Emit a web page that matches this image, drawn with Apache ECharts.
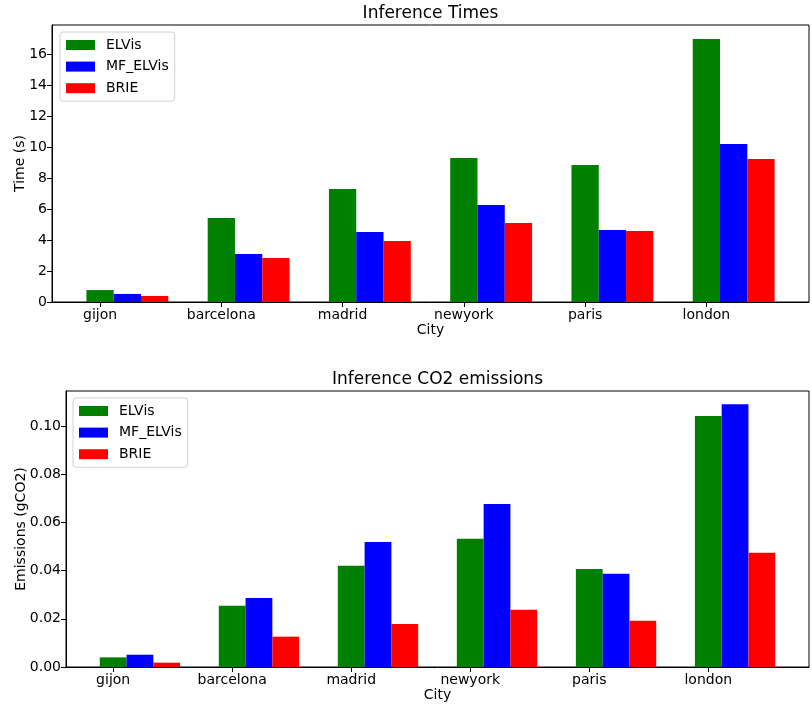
<!DOCTYPE html>
<html>
<head>
    <meta charset="utf-8">
    <title>Inference</title>
    <script src="https://cdn.jsdelivr.net/npm/echarts@6/dist/echarts.min.js"></script>
    <style>
        body { margin: 0; background-color: #ffffff; }
        #chart { width: 812px; height: 704px; }
    </style>
</head>
<body>
    <div id="chart"></div>
    <script>
        // data
        const cities = ['gijon', 'barcelona', 'madrid', 'newyork', 'paris', 'london'];
        const seriesNames = ['ELVis', 'MF_ELVis', 'BRIE'];
        const colors = ['#008000', '#0000ff', '#ff0000'];

        const timeELVis = [0.77, 5.42, 7.29, 9.29, 8.84, 16.97];
        const timeMF = [0.52, 3.10, 4.52, 6.26, 4.65, 10.19];
        const timeBRIE = [0.39, 2.84, 3.94, 5.10, 4.58, 9.23];

        const co2ELVis = [0.0040, 0.0254, 0.0420, 0.0532, 0.0407, 0.1042];
        const co2MF = [0.0051, 0.0287, 0.0519, 0.0677, 0.0387, 0.1091];
        const co2BRIE = [0.0018, 0.0126, 0.0179, 0.0238, 0.0192, 0.0474];

        const timeTicks = [0, 2, 4, 6, 8, 10, 12, 14, 16];
        const co2Ticks = [0, 0.02, 0.04, 0.06, 0.08, 0.10];
        const xTicks = [0, 1, 2, 3, 4, 5];

        const font = 'DejaVu Sans';
        const barStep = 0.225;
        // x limits like matplotlib: bar extent plus 5% margin each side
        const lo = -barStep / 2, hi = 5 + 2.5 * barStep;
        const xMin = lo - (hi - lo) * 0.05, xMax = hi + (hi - lo) * 0.05;

        // grid boxes
        const g1 = { left: 52, top: 25, width: 757, height: 277 };
        const g2 = { left: 66, top: 391, width: 743, height: 276 };

        const chart = echarts.init(document.getElementById('chart'));

        function xAxisFor(idx) {
            return {
                type: 'value', gridIndex: idx, min: xMin, max: xMax,
                name: 'City', nameLocation: 'middle', nameGap: 20,
                nameTextStyle: { color: '#000', fontFamily: font, fontSize: 14 },
                splitLine: { show: false },
                axisLine: { onZero: false, lineStyle: { color: '#000', width: 1 } },
                axisTick: { customValues: xTicks, length: 5, lineStyle: { color: '#000' } },
                axisLabel: {
                    customValues: xTicks, color: '#000', fontFamily: font, fontSize: 14, margin: 6,
                    formatter: v => cities[Math.round(v)]
                }
            };
        }

        function yAxisFor(idx, name, max, ticks, gap, digits) {
            return {
                type: 'value', gridIndex: idx, min: 0, max: max,
                name: name, nameLocation: 'middle', nameGap: gap, nameMoveOverlap: false,
                nameTextStyle: { color: '#000', fontFamily: font, fontSize: 14 },
                splitLine: { show: false },
                axisLine: { show: true, onZero: false, lineStyle: { color: '#000', width: 1 } },
                axisTick: { show: true, customValues: ticks, length: 5, lineStyle: { color: '#000' } },
                axisLabel: {
                    customValues: ticks, color: '#000', fontFamily: font, fontSize: 14, margin: 5,
                    formatter: v => v.toFixed(digits)
                }
            };
        }

        function barSeries(name, values, k, idx, width) {
            return {
                name: name, type: 'bar', xAxisIndex: idx, yAxisIndex: idx,
                barWidth: width, barGap: '-100%',
                itemStyle: { color: colors[k] },
                data: values.map((v, i) => [i + k * barStep, v])
            };
        }

        const w1 = g1.width / (xMax - xMin) * barStep;
        const w2 = g2.width / (xMax - xMin) * barStep;

        function legendAt(left, top) {
            return {
                data: seriesNames, orient: 'vertical', left: left, top: top,
                itemWidth: 29, itemHeight: 10, itemGap: 5.6,
                padding: [5, 6, 5, 6],
                borderColor: '#d0d0d0', borderWidth: 1, borderRadius: 3,
                backgroundColor: 'rgba(255,255,255,0.8)',
                icon: 'rect', selectedMode: false,
                textStyle: { color: '#000', fontFamily: font, fontSize: 14, lineHeight: 16, padding: [0, 0, 0, 6] }
            };
        }

        function gridOf(g) {
            return Object.assign({ show: true, borderColor: '#000', borderWidth: 1, outerBoundsMode: 'none', containLabel: false }, g);
        }

        const option = {
            animation: false,
            backgroundColor: '#ffffff',
            title: [
                {
                    text: 'Inference Times', left: g1.left + g1.width / 2, top: 5, textAlign: 'center', padding: 0,
                    textStyle: { color: '#000', fontFamily: font, fontSize: 17, fontWeight: 'normal' }
                },
                {
                    text: 'Inference CO2 emissions', left: g2.left + g2.width / 2, top: 371, textAlign: 'center', padding: 0,
                    textStyle: { color: '#000', fontFamily: font, fontSize: 17, fontWeight: 'normal' }
                }
            ],
            legend: [legendAt(60, 32), legendAt(73, 398)],
            grid: [gridOf(g1), gridOf(g2)],
            xAxis: [xAxisFor(0), xAxisFor(1)],
            yAxis: [
                yAxisFor(0, 'Time (s)', 17.87, timeTicks, 25, 0),
                yAxisFor(1, 'Emissions (gCO2)', 0.1146, co2Ticks, 38, 2)
            ],
            series: [
                barSeries('ELVis', timeELVis, 0, 0, w1),
                barSeries('MF_ELVis', timeMF, 1, 0, w1),
                barSeries('BRIE', timeBRIE, 2, 0, w1),
                barSeries('ELVis', co2ELVis, 0, 1, w2),
                barSeries('MF_ELVis', co2MF, 1, 1, w2),
                barSeries('BRIE', co2BRIE, 2, 1, w2)
            ]
        };

        chart.setOption(option);
    </script>
</body>
</html>
